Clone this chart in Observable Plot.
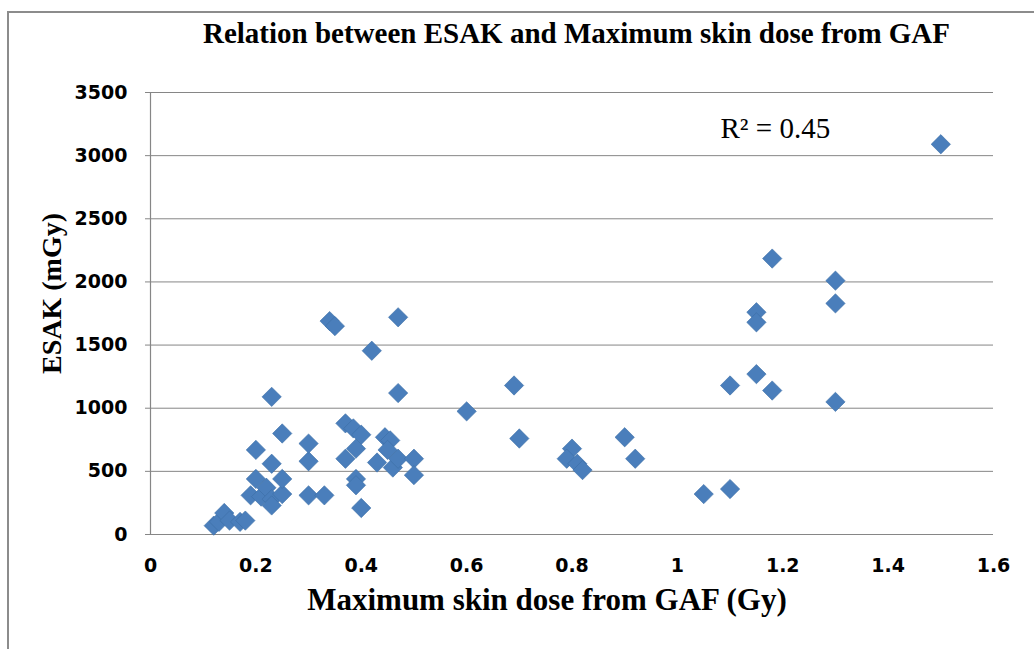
<!DOCTYPE html>
<html>
<head>
<meta charset="utf-8">
<script src="https://cdn.jsdelivr.net/npm/d3@7"></script>
<script src="https://cdn.jsdelivr.net/npm/@observablehq/plot@0.6"></script>
<style>
  body { margin: 0; background: #fff; }
  #chart { position: relative; width: 1034px; height: 649px; overflow: hidden; background: #fff; }
  #frame { position: absolute; left: 7px; top: 11px; width: 1200px; height: 800px;
           border-left: 2px solid #8c8c8c; border-top: 2px solid #8c8c8c; }
  #title { position: absolute; left: 0; top: 19px; width: 1153px; text-align: center;
           font-family: "Liberation Serif", "Times New Roman", serif; font-weight: bold;
           font-size: 29px; line-height: 29px; white-space: nowrap; color: #000; }
  #plot { position: absolute; left: 0; top: 60px; }
</style>
</head>
<body>
<div id="chart">
  <div id="frame"></div>
  <div id="title"></div>
  <div id="plot"></div>
</div>
<script>
const titleText = "Relation between ESAK and Maximum skin dose from GAF";
const xLabel = "Maximum skin dose from GAF (Gy)";
const yLabel = "ESAK (mGy)";
const r2Label = "R² = 0.45";

const xTicks = [0, 0.2, 0.4, 0.6, 0.8, 1, 1.2, 1.4, 1.6];
const yTicks = [0, 500, 1000, 1500, 2000, 2500, 3000, 3500];

// Maximum skin dose from GAF (Gy)
const dose = [0.12,0.13,0.14,0.15,0.17,0.18,0.19,0.20,0.20,0.21,0.22,0.23,0.23,0.23,0.23,0.25,0.25,0.25,0.30,0.30,0.30,0.33,0.34,0.35,0.37,0.385,0.40,0.39,0.37,0.39,0.39,0.40,0.42,0.43,0.445,0.455,0.45,0.46,0.47,0.47,0.47,0.50,0.50,0.60,0.69,0.70,0.80,0.79,0.81,0.82,0.90,0.92,1.05,1.10,1.10,1.15,1.15,1.15,1.18,1.18,1.30,1.30,1.30,1.50];
// ESAK (mGy)
const esak = [70,100,170,110,100,110,310,440,670,300,370,280,230,560,1090,320,440,800,310,580,720,310,1690,1650,880,840,790,680,600,440,390,210,1455,570,770,745,670,530,600,1120,1720,600,470,975,1180,760,680,600,560,510,770,600,320,360,1180,1270,1760,1680,2185,1140,2010,1830,1050,3090];

const data = dose.map((d, i) => ({dose: d, esak: esak[i]}));

document.getElementById("title").textContent = titleText;

const gridColor = "#868686";
const serif = "Liberation Serif, Times New Roman, serif";
const sans = "DejaVu Sans, Verdana, sans-serif";

const chart = Plot.plot({
  width: 1034,
  height: 589,
  marginLeft: 150,
  marginRight: 41,
  marginTop: 32,
  marginBottom: 115,
  style: {background: "transparent", overflow: "visible"},
  x: {domain: [0, 1.6]},
  y: {domain: [0, 3500]},
  marks: [
    Plot.gridY(yTicks, {stroke: gridColor, strokeOpacity: 1, strokeWidth: 1}),
    Plot.ruleY([0], {stroke: gridColor, strokeWidth: 1.2}),
    Plot.ruleX([0], {stroke: gridColor, strokeWidth: 1.2}),
    Plot.axisY(yTicks, {
      tickSize: 5, tickPadding: 18, stroke: gridColor, fill: "#000",
      fontFamily: sans, fontWeight: "bold", fontSize: 19, label: null,
      tickFormat: d => String(d)
    }),
    Plot.axisX(xTicks, {
      tickSize: 0, tickPadding: 24, fill: "#000",
      fontFamily: sans, fontWeight: "bold", fontSize: 19, label: null,
      tickFormat: d => String(d)
    }),
    Plot.dot(data, {
      x: "dose", y: "esak", symbol: "diamond2", r: 8.7,
      fill: "#4a7ebb", stroke: "#3d6ea6", strokeWidth: 0.6
    }),
    Plot.text([r2Label], {
      frameAnchor: "top-left", textAnchor: "start", lineAnchor: "middle",
      dx: 570, dy: 36, fontFamily: serif, fontSize: 29, fill: "#000"
    }),
    Plot.text([yLabel], {
      frameAnchor: "left", textAnchor: "middle", rotate: -90, dx: -98, dy: -20, lineAnchor: "middle",
      fontFamily: serif, fontWeight: "bold", fontSize: 28, fill: "#000"
    }),
    Plot.text([xLabel], {
      frameAnchor: "bottom", textAnchor: "middle", dx: -25, dy: 66, lineAnchor: "middle",
      fontFamily: serif, fontWeight: "bold", fontSize: 31, fill: "#000"
    })
  ]
});
document.getElementById("plot").appendChild(chart);
</script>
</body>
</html>
